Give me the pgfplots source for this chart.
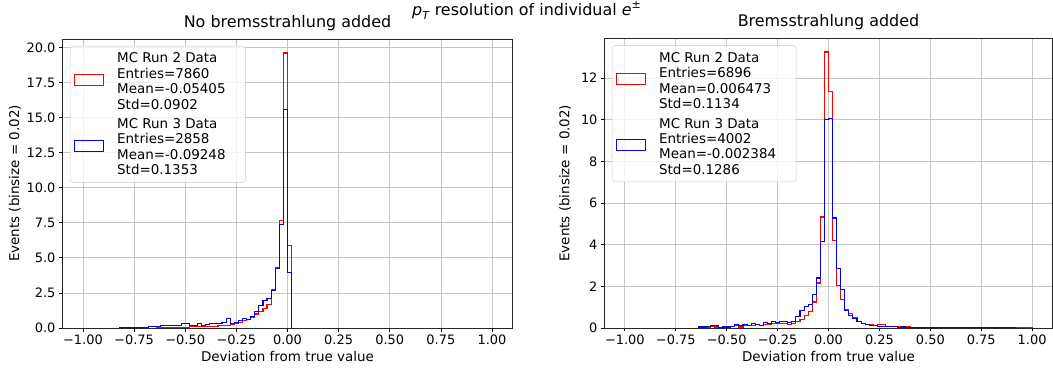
\documentclass[border=0pt]{standalone}
\usepackage{pgfplots}
\pgfplotsset{compat=1.18}
\usepackage{fontspec}
\setmainfont{DejaVu Sans}

\pgfplotstableread{
x y
-0.64 0
-0.64 0.03
-0.62 0.04
-0.60 0.04
-0.58 0.04
-0.56 0.05
-0.54 0.04
-0.52 0.05
-0.50 0.06
-0.48 0.08
-0.46 0.08
-0.44 0.08
-0.42 0.09
-0.40 0.10
-0.38 0.12
-0.36 0.13
-0.34 0.15
-0.32 0.16
-0.30 0.20
-0.28 0.25
-0.26 0.30
-0.24 0.42
-0.22 0.55
-0.20 0.62
-0.18 0.77
-0.16 1.00
-0.14 1.18
-0.12 1.37
-0.10 1.65
-0.08 2.75
-0.06 4.30
-0.04 7.65
-0.02 19.6
0.00 5.87
0.02 0
}\leftred

\pgfplotstableread{
x y
-0.82 0
-0.82 0.04
-0.80 0
-0.72 0
-0.72 0.06
-0.70 0.06
-0.68 0.08
-0.66 0.08
-0.64 0.12
-0.62 0.15
-0.60 0.15
-0.58 0.15
-0.56 0.20
-0.54 0.20
-0.52 0.30
-0.50 0.30
-0.48 0.20
-0.46 0.20
-0.44 0.30
-0.42 0.20
-0.40 0.22
-0.38 0.30
-0.36 0.30
-0.34 0.32
-0.32 0.42
-0.30 0.70
-0.28 0.35
-0.26 0.40
-0.24 0.55
-0.22 0.65
-0.20 0.60
-0.18 0.85
-0.16 1.20
-0.14 1.60
-0.12 1.96
-0.10 2.10
-0.08 2.70
-0.06 4.25
-0.04 7.35
-0.02 15.6
0.00 3.94
0.02 0
}\leftblue

\pgfplotstableread{
x y
-0.64 0
-0.64 0.03
-0.62 0.05
-0.60 0.05
-0.58 0.08
-0.56 0.05
-0.54 0.03
-0.52 0.05
-0.50 0.05
-0.48 0.08
-0.46 0.10
-0.44 0.05
-0.42 0.10
-0.40 0.12
-0.38 0.10
-0.36 0.15
-0.34 0.12
-0.32 0.18
-0.30 0.15
-0.28 0.20
-0.26 0.20
-0.24 0.22
-0.22 0.20
-0.20 0.18
-0.18 0.22
-0.16 0.30
-0.14 0.42
-0.12 0.58
-0.10 0.80
-0.08 1.25
-0.06 2.16
-0.04 5.33
-0.02 13.25
0.00 11.36
0.02 4.20
0.04 2.03
0.06 1.36
0.08 0.90
0.10 0.69
0.12 0.48
0.14 0.30
0.16 0.22
0.18 0.18
0.20 0.15
0.22 0.12
0.24 0.18
0.26 0.18
0.28 0.08
0.30 0.06
0.32 0.06
0.34 0.05
0.36 0.04
0.38 0.05
0.40 0.03
0.42 0.04
0.44 0.02
0.46 0.03
0.48 0.03
0.50 0.02
0.52 0.01
0.54 0.02
0.56 0
0.58 0.02
0.60 0.01
0.62 0.01
0.64 0.02
0.66 0.01
0.68 0.02
0.70 0
0.72 0.02
0.74 0
0.76 0.02
0.78 0.01
0.80 0
0.82 0.02
0.84 0
0.86 0.02
0.88 0
0.90 0.02
0.92 0
0.94 0.02
0.96 0
0.98 0.02
1.00 0
}\rightred

\pgfplotstableread{
x y
-0.64 0
-0.64 0.05
-0.62 0.05
-0.60 0.08
-0.58 0.10
-0.56 0.10
-0.54 0.02
-0.52 0.05
-0.50 0.05
-0.48 0.08
-0.46 0.15
-0.44 0.10
-0.42 0.15
-0.40 0.10
-0.38 0.20
-0.36 0.18
-0.34 0.12
-0.32 0.25
-0.30 0.22
-0.28 0.30
-0.26 0.28
-0.24 0.30
-0.22 0.30
-0.20 0.25
-0.18 0.30
-0.16 0.55
-0.14 0.82
-0.12 1.05
-0.10 1.12
-0.08 1.60
-0.06 2.40
-0.04 4.16
-0.02 10.0
0.00 10.05
0.02 5.28
0.04 2.85
0.06 1.87
0.08 0.85
0.10 0.60
0.12 0.45
0.14 0.33
0.16 0.22
0.18 0.15
0.20 0.12
0.22 0.10
0.24 0.08
0.26 0.07
0.28 0.06
0.30 0.07
0.32 0.06
0.34 0.04
0.36 0.05
0.38 0.03
0.40 0.04
0.42 0.02
0.44 0.03
0.46 0.02
0.48 0.02
0.50 0.02
0.52 0.01
0.54 0.01
0.56 0.02
0.58 0.01
0.60 0.01
0.62 0.02
0.64 0.04
0.66 0.01
0.68 0.01
0.70 0.01
0.72 0
0.74 0.02
0.76 0
0.78 0.02
0.80 0.01
0.82 0
0.84 0.02
0.86 0
0.88 0.02
0.90 0
0.92 0
}\rightblue

\newcommand{\legtext}[4]{\begin{tabular}[b]{@{\hspace{11bp}}l@{\hspace{14bp}}}#1\\#2\\#3\\#4\end{tabular}}

\pgfplotsset{
  histax/.style={
    scale only axis,
    xmin=-1.1, xmax=1.1, ymin=0,
    xtick={-1,-0.75,-0.5,-0.25,0,0.25,0.5,0.75,1},
    xticklabels={−1.00,−0.75,−0.50,−0.25,0.00,0.25,0.50,0.75,1.00},
    tick pos=left, tick align=outside,
    major tick length=3.5bp,
    every tick/.style={black, line width=0.8bp},
    axis line style={black!85, line width=0.8bp},
    grid=major,
    grid style={gray!45, line width=0.8bp},
    tick label style={font=\fontsize{13}{15}\selectfont},
    title style={font=\fontsize{16}{18}\selectfont, at={(0.5,1)}, anchor=base, yshift=6bp},
    xlabel={Deviation from true value},
    ylabel={Events (binsize = 0.02)},
    every axis x label/.style={at={(axis description cs:0.5,-0.097)}, anchor=center,
      font=\fontsize{13.5}{15}\selectfont},
    legend cell align=left,
    legend image code/.code={%
      \draw[#1, sharp corners, line width=1bp] (0bp,-4bp) rectangle (29bp,7bp);},
    legend style={anchor=north west, draw=black!20, rounded corners=3pt, fill=white,
      fill opacity=0.8, text opacity=1, font=\fontsize{13.5}{15.5}\selectfont,
      inner xsep=4bp, inner ysep=4bp, row sep=3bp},
  },
  ylab/.style={every axis y label/.style={at={(axis description cs:#1,0.5)}, rotate=90,
      anchor=center, font=\fontsize{13.5}{15}\selectfont}},
  redh/.style={const plot mark left, draw=red, line width=1.1bp},
  blueh/.style={const plot mark left, draw=blue, line width=1.1bp},
}

\begin{document}
\begin{tikzpicture}
\useasboundingbox (0,0) rectangle (1053bp,374bp);

\begin{axis}[histax, at={(62.5bp,46bp)}, anchor=south west,
  width=450bp, height=289bp, ymax=20.6,
  ytick={0,2.5,5,7.5,10,12.5,15,17.5,20},
  yticklabels={0.0,2.5,5.0,7.5,10.0,12.5,15.0,17.5,20.0},
  ylab=-0.106,
  title={No bremsstrahlung added},
  legend style={at={(0.0167,0.976)}}]
\addplot[redh] table {\leftred};
\addlegendentry{\legtext{MC Run 2 Data}{Entries=7860}{Mean=-0.05405}{Std=0.0902}}
\addplot[blueh] table {\leftblue};
\addlegendentry{\legtext{MC Run 3 Data}{Entries=2858}{Mean=-0.09248}{Std=0.1353}}
\end{axis}

\begin{axis}[histax, at={(604.5bp,46bp)}, anchor=south west,
  width=448bp, height=289.5bp, ymax=13.9,
  ytick={0,2,4,6,8,10,12},
  yticklabels={0,2,4,6,8,10,12},
  ylab=-0.088,
  title={Bremsstrahlung added},
  legend style={at={(0.0167,0.976)}}]
\addplot[redh] table {\rightred};
\addlegendentry{\legtext{MC Run 2 Data}{Entries=6896}{Mean=0.006473}{Std=0.1134}}
\addplot[blueh] table {\rightblue};
\addlegendentry{\legtext{MC Run 3 Data}{Entries=4002}{Mean=-0.002384}{Std=0.1286}}
\end{axis}

\node[anchor=base, font=\fontsize{16}{18}\selectfont] at (526.5bp,358bp)
  {\textit{p}\raisebox{-0.35ex}{\fontsize{11}{12}\selectfont\textit{T}} resolution of individual \textit{e}\raisebox{0.9ex}{\fontsize{11}{12}\selectfont ±}};
\end{tikzpicture}
\end{document}
